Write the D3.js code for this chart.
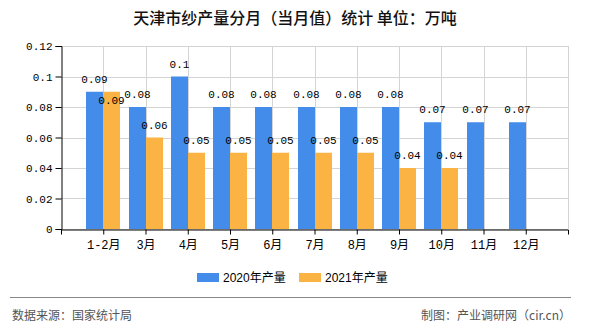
<!DOCTYPE html>
<html>
<head>
<meta charset="utf-8">
<script src="https://cdn.jsdelivr.net/npm/d3@7/dist/d3.min.js"></script>
<style>
html,body{margin:0;padding:0;background:#fff;}
svg{display:block;}
</style>
</head>
<body>
<svg id="chart" width="590" height="330"></svg>
<script>
const categories = ["1-2月","3月","4月","5月","6月","7月","8月","9月","10月","11月","12月"];
const seriesNames = ["2020年产量","2021年产量"];
const values2020 = [0.09,0.08,0.1,0.08,0.08,0.08,0.08,0.08,0.07,0.07,0.07];
const values2021 = [0.09,0.06,0.05,0.05,0.05,0.05,0.05,0.04,0.04,null,null];
const yTicks = [0,0.02,0.04,0.06,0.08,0.1,0.12];
const colors = ["#438cea","#fbb443"];
const titleText = "天津市纱产量分月（当月值）统计 单位：万吨";
const sourceText = "数据来源：国家统计局";
const creditText = "制图：产业调研网（cir.cn）";

const svg = d3.select("#chart");
const L = 61, R = 568, T = 46, B = 229;
const monoFont = "'Liberation Mono','Noto Sans CJK SC',monospace";
const cjkFont = "'Noto Sans CJK SC','Liberation Sans',sans-serif";

const x = d3.scalePoint().domain(categories).range([L, R]).padding(1);
const y = d3.scaleLinear().domain([0, 0.12]).range([B, T]);
const barW = 17;

// title
svg.append("text").attr("x", 295).attr("y", 24).attr("text-anchor", "middle")
  .attr("font-family", cjkFont).attr("font-size", 16).attr("font-weight", 500)
  .attr("fill", "#111").text(titleText);

// grid
const g = svg.append("g");
g.selectAll("line.hg").data(yTicks).join("line")
  .attr("x1", L).attr("x2", R).attr("y1", d => Math.round(y(d)) + 0.5).attr("y2", d => Math.round(y(d)) + 0.5)
  .attr("stroke", "#d4d4d4").attr("stroke-width", 1);
const vlines = categories.map(c => x(c)).concat([R]);
g.selectAll("line.vg").data(vlines).join("line")
  .attr("x1", d => Math.round(d) + 0.5).attr("x2", d => Math.round(d) + 0.5)
  .attr("y1", T).attr("y2", B)
  .attr("stroke", "#d4d4d4").attr("stroke-width", 1);

// bars
const series = [values2020, values2021];
series.forEach((vals, si) => {
  svg.append("g").selectAll("rect").data(categories.map((c, i) => ({c, v: vals[i]})).filter(d => d.v != null))
    .join("rect")
    .attr("x", d => Math.round(x(d.c)) + (si === 0 ? -barW : 0))
    .attr("y", d => y(d.v))
    .attr("width", barW)
    .attr("height", d => B - y(d.v))
    .attr("fill", colors[si]);
});

// axes
const yAxis = d3.axisLeft(y).tickValues(yTicks).tickSize(6).tickPadding(3)
  .tickFormat(d => d === 0 ? "0" : d3.format("")(+d.toFixed(2)));
const ya = svg.append("g").attr("transform", `translate(${L + 0.5},0)`).call(yAxis);
ya.select(".domain").attr("stroke", "#000");
ya.selectAll(".tick line").attr("stroke", "#000");
ya.selectAll("text").attr("font-family", monoFont).attr("font-size", 11).attr("fill", "#000");

const xAxis = d3.axisBottom(x).tickSize(5).tickSizeOuter(5).tickPadding(6);
const xa = svg.append("g").attr("transform", `translate(0,${B + 0.5})`).call(xAxis);
xa.select(".domain").attr("stroke", "#000");
xa.selectAll(".tick line").attr("stroke", "#000");
xa.selectAll("text").attr("font-family", monoFont).attr("font-size", 12).attr("fill", "#000");

// value labels
const labels = [];
series.forEach((vals, si) => {
  categories.forEach((c, i) => {
    const v = vals[i];
    if (v == null) return;
    const cx = Math.round(x(c)) + (si === 0 ? -barW / 2 : barW / 2);
    let ly = y(v) - 9;
    if (si === 1) {
      const bl = labels.find(l => l.c === c);
      if (bl && Math.abs(bl.y - ly) < 14) ly = bl.y + 21;
    }
    labels.push({c, x: cx, y: ly, t: String(v)});
  });
});
svg.append("g").selectAll("text").data(labels).join("text")
  .attr("x", d => d.x).attr("y", d => d.y).attr("text-anchor", "middle")
  .attr("font-family", monoFont).attr("font-size", 11).attr("fill", "#000")
  .text(d => d.t);

// legend
const legX = [197, 299];
seriesNames.forEach((n, i) => {
  svg.append("rect").attr("x", legX[i]).attr("y", 273).attr("width", 22).attr("height", 9).attr("fill", colors[i]);
  svg.append("text").attr("x", legX[i] + 26).attr("y", 282)
    .attr("font-family", "'Liberation Sans','Noto Sans CJK SC',sans-serif").attr("font-size", 12)
    .attr("fill", "#000").text(n);
});

// footer
svg.append("line").attr("x1", 10).attr("x2", 571).attr("y1", 297.5).attr("y2", 297.5)
  .attr("stroke", "#888").attr("stroke-width", 1);
svg.append("text").attr("x", 12).attr("y", 320).attr("font-family", cjkFont).attr("font-size", 12)
  .attr("fill", "#555").text(sourceText);
svg.append("text").attr("x", 571).attr("y", 320).attr("text-anchor", "end").attr("font-family", cjkFont).attr("font-size", 12)
  .attr("fill", "#555").text(creditText);
</script>
</body>
</html>
